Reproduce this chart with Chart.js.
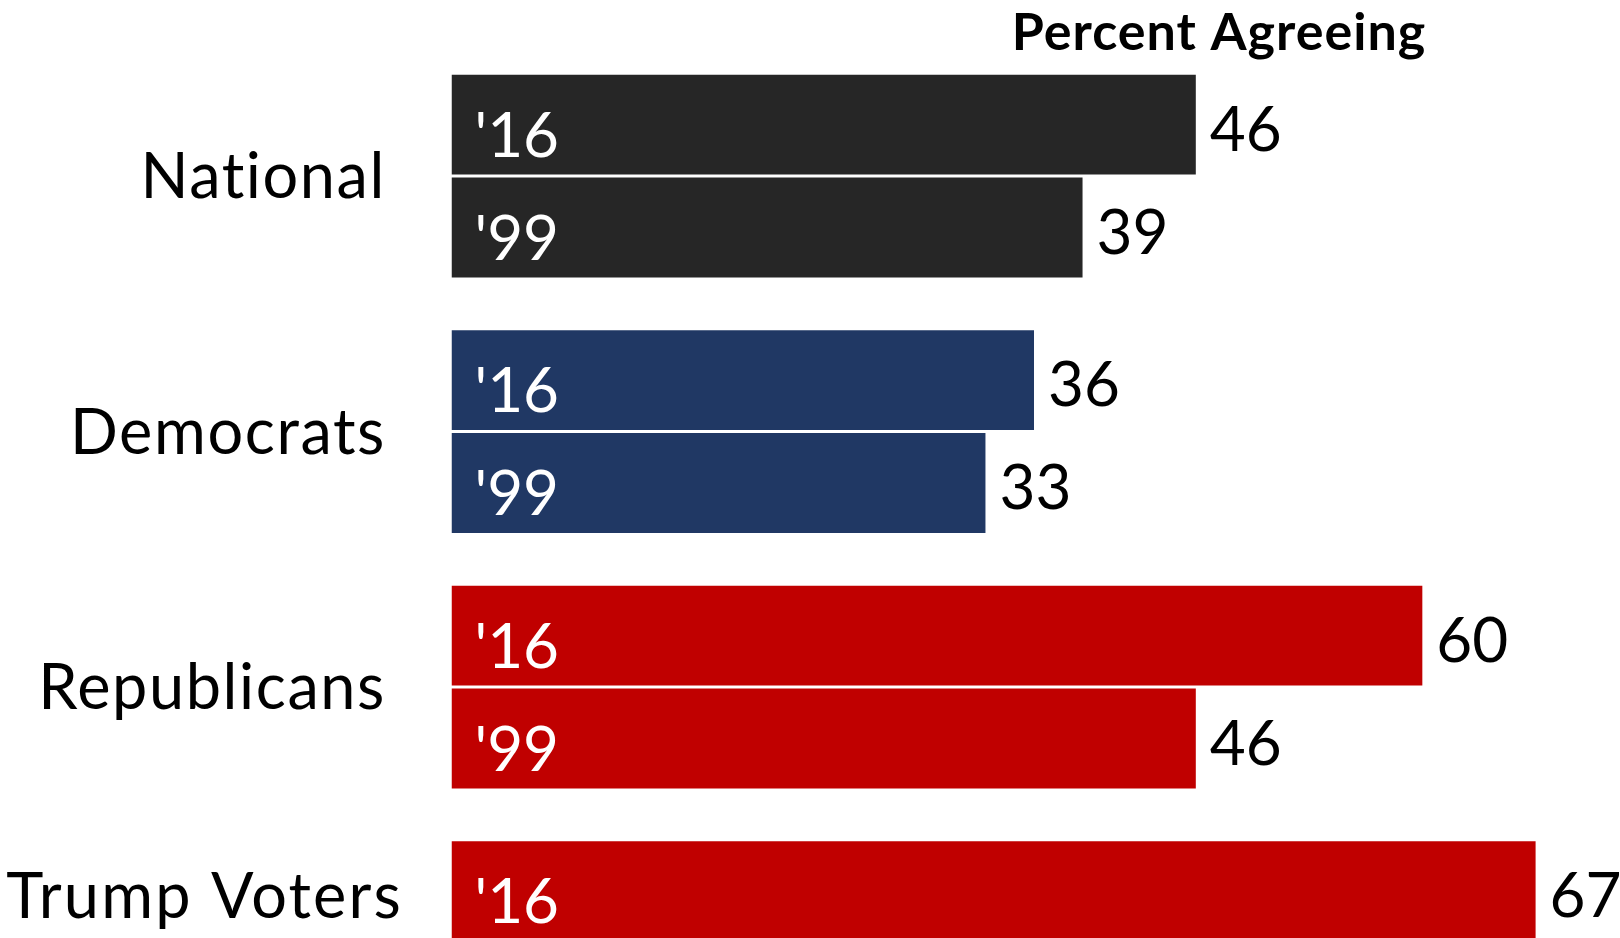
<!DOCTYPE html>
<html>
<head>
<meta charset="utf-8">
<script src="https://cdn.jsdelivr.net/npm/chart.js@4.4.1/dist/chart.umd.min.js"></script>
<style>
  html, body { margin: 0; padding: 0; background: #fff; overflow: hidden; }
  #frame { width: 1620px; height: 938px; overflow: hidden; position: relative; }
  #wrap { width: 1620px; height: 1080px; position: absolute; left: 0; top: 0; }
</style>
</head>
<body>
<div id="frame"><div id="wrap"><canvas id="chart"></canvas></div></div>
<script>
// 데이터
const categories = ['National', 'Democrats', 'Republicans', 'Trump Voters'];
const years = ["'16", "'99"];
const values16 = [46, 36, 60, 67];
const values99 = [39, 33, 46, null];
const groupColors = ['#262626', '#203864', '#C00000', '#C00000'];
const title = 'Percent Agreeing';

// 라벨 그리기 플러그인
const labelPlugin = {
  id: 'labels',
  afterDatasetsDraw(chart) {
    const ctx = chart.ctx;
    const area = chart.chartArea;
    ctx.save();

    // 값 + 연도 라벨
    chart.data.datasets.forEach((ds, di) => {
      const meta = chart.getDatasetMeta(di);
      meta.data.forEach((bar, i) => {
        const v = ds.data[i];
        if (v == null) return;
        ctx.font = '62px Lato';
        ctx.textBaseline = 'alphabetic';
        ctx.textAlign = 'left';
        ctx.fillStyle = '#000';
        ctx.fillText(String(v), bar.x + 14, bar.y + 26);
        ctx.fillStyle = '#fff';
        ctx.fillText(years[di], area.left + 23, bar.y + 32);
      });
    });

    // 카테고리 라벨
    const yScale = chart.scales.y;
    ctx.font = '63px Lato';
    ctx.letterSpacing = '1.6px';
    ctx.fillStyle = '#000';
    ctx.textAlign = 'right';
    categories.forEach((c, i) => {
      if (values99[i] == null) {
        const bar = chart.getDatasetMeta(0).data[i];
        ctx.letterSpacing = '2.2px';
        ctx.fillText(c, 403, bar.y + 27);
      } else {
        ctx.fillText(c, 386, yScale.getPixelForValue(i) + 22);
      }
    });

    // 제목
    ctx.font = 'bold 52px Lato';
    ctx.letterSpacing = '1px';
    ctx.textAlign = 'center';
    ctx.fillText(title, 1219, 50);
    ctx.restore();
  }
};

new Chart(document.getElementById('chart').getContext('2d'), {
  type: 'bar',
  data: {
    labels: categories,
    datasets: [
      { label: years[0], data: values16, backgroundColor: groupColors },
      { label: years[1], data: values99, backgroundColor: groupColors }
    ]
  },
  options: {
    indexAxis: 'y',
    responsive: true,
    maintainAspectRatio: false,
    animation: false,
    devicePixelRatio: 1,
    categoryPercentage: 0.806,
    barPercentage: 0.971,
    layout: { padding: { left: 451.5, right: 3.5, top: 48.35, bottom: 9.65 } },
    plugins: { legend: { display: false }, tooltip: { enabled: false } },
    scales: {
      x: { display: false, min: 0, max: 72 },
      y: { display: false, grid: { display: false } }
    }
  },
  plugins: [labelPlugin]
});
</script>
</body>
</html>
